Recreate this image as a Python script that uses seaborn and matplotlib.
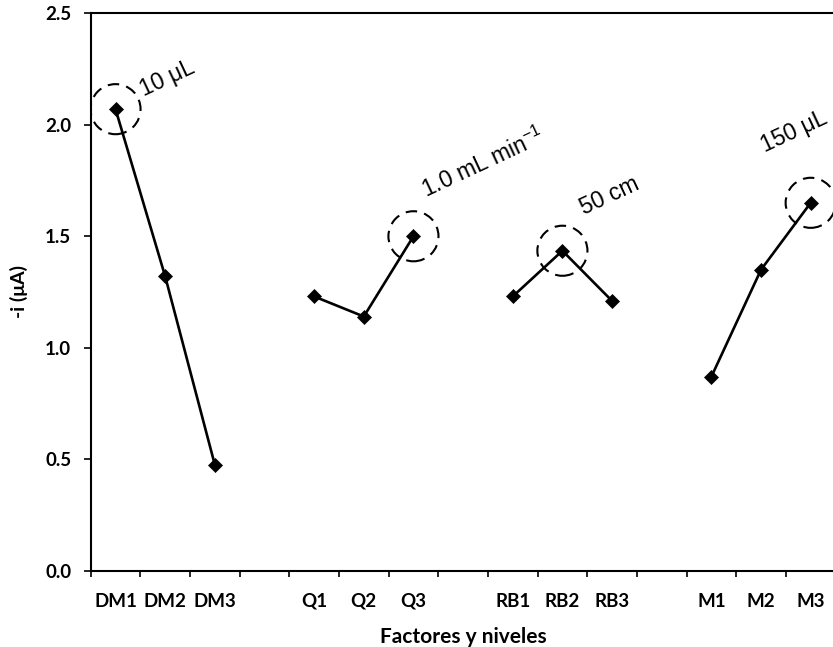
import numpy as np
import pandas as pd
import seaborn as sns
import matplotlib.pyplot as plt
from matplotlib.ticker import FixedLocator, FixedFormatter

# ---- data ----
categories = ["DM1", "DM2", "DM3", "", "Q1", "Q2", "Q3", "", "RB1", "RB2", "RB3", "", "M1", "M2", "M3"]
levels = ["DM1", "DM2", "DM3", "Q1", "Q2", "Q3", "RB1", "RB2", "RB3", "M1", "M2", "M3"]
groups = ["DM", "DM", "DM", "Q", "Q", "Q", "RB", "RB", "RB", "M", "M", "M"]
current = [2.07, 1.32, 0.475, 1.23, 1.14, 1.50, 1.23, 1.435, 1.21, 0.87, 1.35, 1.65]
optimal_levels = ["DM1", "Q3", "RB2", "M3"]
optimal_labels = ["10 μL", "1.0 mL min$^{-1}$", "50 cm", "150 μL"]
y_ticks = [0.0, 0.5, 1.0, 1.5, 2.0, 2.5]

# ---- style ----
sns.set_style("white")
plt.rcParams["font.family"] = ["Lato", "DejaVu Sans"]
plt.rcParams["mathtext.fontset"] = "custom"
plt.rcParams["mathtext.rm"] = "Liberation Sans"
plt.rcParams["mathtext.it"] = "Liberation Sans"
for k in ["text.color", "axes.labelcolor", "xtick.color", "ytick.color"]:
    plt.rcParams[k] = "black"

W, H = 833, 647
fig = plt.figure(figsize=(W / 100, H / 100), dpi=100)
ax = fig.add_axes([90.7 / W, 76.3 / H, 744.8 / W, 557.4 / H])

df = pd.DataFrame({"level": levels, "group": groups, "current": current})
pos_map = {c: i for i, c in enumerate(categories) if c}
df["pos"] = df["level"].map(pos_map)

sns.lineplot(data=df, x="pos", y="current", hue="group", palette=["black"] * 4,
             marker="D", markersize=7, markeredgecolor="black", markeredgewidth=0.5,
             linewidth=1.9, estimator=None, sort=False, legend=False, ax=ax, zorder=4)

opt = df[df["level"].isin(optimal_levels)].set_index("level").loc[optimal_levels]
ax.scatter(opt["pos"], opt["current"], s=1300, facecolors="none", edgecolors="black",
           linewidths=1.5, linestyles=(0, (5.5, 3.5)), zorder=3)

offsets = [(28, 13), (13, 38), (22, 36), (-46, 50)]
for (lvl, row), lab, off in zip(opt.iterrows(), optimal_labels, offsets):
    ax.annotate(lab, (row["pos"], row["current"]), xytext=off, textcoords="offset pixels",
                rotation=25, rotation_mode="anchor", ha="left", va="baseline",
                fontsize=16.5, family="Liberation Sans", color="black", annotation_clip=False)

# ---- axes ----
ax.set_xlim(-0.5, len(categories) - 0.5)
ax.set_ylim(0, 2.5)
ax.xaxis.set_major_locator(FixedLocator(np.arange(len(categories))))
ax.xaxis.set_major_formatter(FixedFormatter(categories))
ax.xaxis.set_minor_locator(FixedLocator(np.arange(len(categories) + 1) - 0.5))
ax.tick_params(axis="x", which="major", length=0, pad=16, labelsize=13.5)
ax.tick_params(axis="x", which="minor", length=4, width=1.2, direction="out", bottom=True)
ax.set_yticks(y_ticks)
ax.set_yticklabels([f"{v:.1f}" for v in y_ticks])
ax.tick_params(axis="y", length=5, width=1.2, direction="out", left=True, pad=9, labelsize=13.5)
for lab in ax.get_xticklabels() + ax.get_yticklabels():
    lab.set_fontweight("bold")

ax.set_xlabel("Factores y niveles", fontsize=15, fontweight="bold", labelpad=12)
ax.set_ylabel("-i (μA)", fontsize=14, fontweight="bold", labelpad=12)

for s in ["left", "bottom", "top", "right"]:
    ax.spines[s].set_visible(True)
    ax.spines[s].set_color("black")
    ax.spines[s].set_linewidth(1.5)

fig.savefig("out.png", dpi=100)
